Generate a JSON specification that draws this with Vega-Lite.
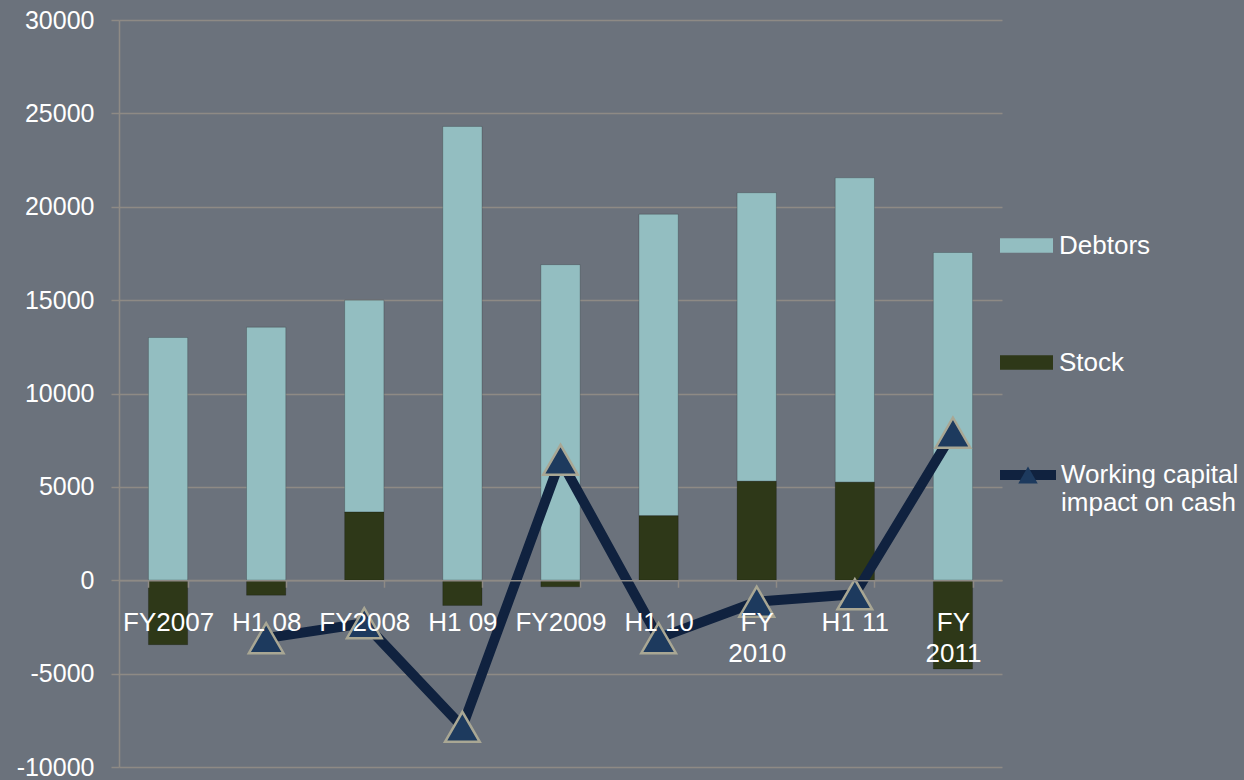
{
  "$schema": "https://vega.github.io/schema/vega-lite/v6.json",
  "width": 883,
  "height": 747,
  "autosize": {"type": "none"},
  "padding": {"left": 119, "top": 20, "right": 242, "bottom": 13},
  "background": "#6B727C",
  "config": {
    "view": {"stroke": null},
    "font": "Liberation Sans",
    "axis": {
      "labelFont": "Liberation Sans",
      "labelFontSize": 26,
      "labelColor": "#FFFFFF",
      "domainColor": "#8E8A85",
      "tickColor": "#8E8A85",
      "gridColor": "#8E8A85",
      "domainWidth": 1.5,
      "tickWidth": 1.5,
      "gridWidth": 1.5
    },
    "legend": {
      "labelFont": "Liberation Sans",
      "labelFontSize": 26,
      "labelColor": "#FFFFFF",
      "labelLimit": 320,
      "padding": 0
    }
  },
  "datasets": {
    "bars": [
      {"period": "FY2007", "series": "Debtors", "value": 13000},
      {"period": "H1 08", "series": "Debtors", "value": 13550},
      {"period": "FY2008", "series": "Debtors", "value": 11350},
      {"period": "H1 09", "series": "Debtors", "value": 24300},
      {"period": "FY2009", "series": "Debtors", "value": 16900},
      {"period": "H1 10", "series": "Debtors", "value": 16150},
      {"period": "FY 2010", "series": "Debtors", "value": 15450},
      {"period": "H1 11", "series": "Debtors", "value": 16300},
      {"period": "FY 2011", "series": "Debtors", "value": 17550},
      {"period": "FY2007", "series": "Stock", "value": -3450},
      {"period": "H1 08", "series": "Stock", "value": -800},
      {"period": "FY2008", "series": "Stock", "value": 3650},
      {"period": "H1 09", "series": "Stock", "value": -1350},
      {"period": "FY2009", "series": "Stock", "value": -350},
      {"period": "H1 10", "series": "Stock", "value": 3450},
      {"period": "FY 2010", "series": "Stock", "value": 5300},
      {"period": "H1 11", "series": "Stock", "value": 5250},
      {"period": "FY 2011", "series": "Stock", "value": -4750}
    ],
    "wc": [
      {"period": "FY2007", "series": "Working capital impact on cash", "value": null},
      {"period": "H1 08", "series": "Working capital impact on cash", "value": -3100},
      {"period": "FY2008", "series": "Working capital impact on cash", "value": -2300},
      {"period": "H1 09", "series": "Working capital impact on cash", "value": -7850},
      {"period": "FY2009", "series": "Working capital impact on cash", "value": 6450},
      {"period": "H1 10", "series": "Working capital impact on cash", "value": -3100},
      {"period": "FY 2010", "series": "Working capital impact on cash", "value": -1150},
      {"period": "H1 11", "series": "Working capital impact on cash", "value": -750},
      {"period": "FY 2011", "series": "Working capital impact on cash", "value": 7900}
    ]
  },
  "encoding": {
    "x": {
      "field": "period",
      "type": "nominal",
      "scale": {
        "domain": ["FY2007", "H1 08", "FY2008", "H1 09", "FY2009", "H1 10", "FY 2010", "H1 11", "FY 2011"],
        "paddingInner": 0.6,
        "paddingOuter": 0.3
      },
      "axis": {
        "title": null,
        "labelAngle": 0,
        "offset": -186.75,
        "tickBand": "extent",
        "tickSize": 7,
        "labelPadding": 22,
        "labelLineHeight": 31,
        "labelExpr": "substring(datum.label, 0, 3) == 'FY ' ? split(datum.label, ' ') : datum.label",
        "grid": false,
        "domain": true,
        "zindex": 1
      }
    }
  },
  "layer": [
    {
      "data": {"name": "bars"},
      "mark": {"type": "bar", "stroke": "#000000", "strokeOpacity": 0.2, "strokeWidth": 1},
      "encoding": {
        "y": {
          "field": "value",
          "type": "quantitative",
          "scale": {"domain": [-10000, 30000], "nice": false},
          "axis": {
            "title": null,
            "values": [-10000, -5000, 0, 5000, 10000, 15000, 20000, 25000, 30000],
            "labelExpr": "'' + datum.value",
            "labelFontSize": 25,
            "tickSize": 8,
            "labelPadding": 17,
            "grid": true,
            "domain": true
          }
        },
        "color": {
          "field": "series",
          "type": "nominal",
          "scale": {"domain": ["Debtors", "Stock"], "range": ["#93BEC1", "#2E3818"]},
          "legend": {
            "title": null,
            "orient": "none",
            "legendX": 881,
            "legendY": 199,
            "direction": "vertical",
            "symbolType": "M-1,-0.27H1V0.27H-1Z",
            "symbolSize": 2809,
            "symbolStrokeWidth": 0,
            "rowPadding": 77,
            "labelOffset": 6
          }
        },
        "order": {"field": "series", "type": "ordinal", "sort": "descending"}
      }
    },
    {
      "data": {"name": "wc"},
      "mark": {"type": "line", "strokeWidth": 10, "strokeJoin": "round"},
      "encoding": {
        "y": {"field": "value", "type": "quantitative"},
        "stroke": {
          "field": "series",
          "type": "nominal",
          "scale": {"range": ["#10223F"]},
          "legend": {
            "title": null,
            "orient": "none",
            "legendX": 876,
            "legendY": 422,
            "symbolType": "stroke",
            "symbolSize": 3136,
            "symbolStrokeWidth": 10,
            "labelExpr": "['Working capital', 'impact on cash']",
            "labelLineHeight": 30,
            "labelOffset": 0
          }
        }
      }
    },
    {
      "data": {"name": "wc"},
      "mark": {"type": "point", "filled": true, "fill": "#1D3A5E", "stroke": "#A9A794", "strokeWidth": 2.5, "size": 1200, "opacity": 1},
      "encoding": {
        "y": {"field": "value", "type": "quantitative"},
        "shape": {
          "field": "series",
          "type": "nominal",
          "scale": {"domain": ["Working capital impact on cash"], "range": ["triangle-up"]},
          "legend": {
            "title": null,
            "orient": "none",
            "legendX": 896,
            "legendY": 442,
            "symbolSize": 380,
            "symbolFillColor": "#1D3A5E",
            "symbolStrokeColor": "#A9A794",
            "symbolStrokeWidth": 2,
            "labelExpr": "''"
          }
        }
      }
    }
  ]
}
